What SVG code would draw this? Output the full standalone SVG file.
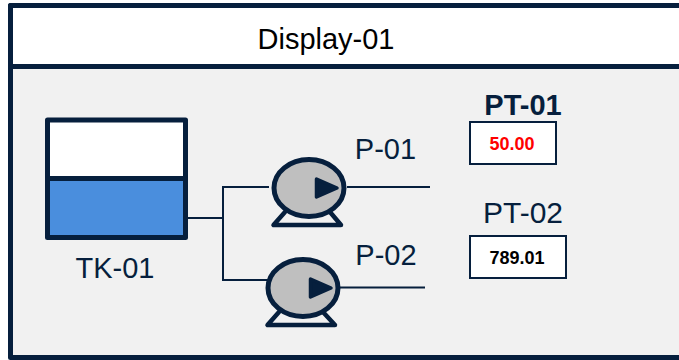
<svg xmlns="http://www.w3.org/2000/svg" width="679" height="360" viewBox="0 0 679 360">
<style>
text{font-family:"Liberation Sans",Arial,sans-serif;fill:#061f3d;text-anchor:middle}
.lbl{font-size:29px}
.val{font-size:18px;font-weight:bold}
.frame{stroke:#061f3d;stroke-width:5;stroke-linejoin:round}
.pipe{fill:none;stroke:#061f3d;stroke-width:2}
.box{fill:#fff;stroke:#061f3d;stroke-width:2}
.body{fill:#bfbfbf;stroke:#061f3d;stroke-width:5}
.tri{fill:#061f3d;stroke:#061f3d;stroke-width:3.500;stroke-linejoin:round}
.foot{fill:none;stroke:#061f3d;stroke-width:4.500;stroke-linejoin:round;stroke-linecap:round}
</style>
<rect width="679" height="360" fill="#fff"/>
<g id="display-frame">
<rect class="frame" x="10.500" y="5.500" width="680" height="352" fill="#f1f1f1"/>
<rect class="frame" x="10.500" y="5.500" width="680" height="61" fill="#fff"/>
<text x="326" y="49" style="font-size:29px;fill:#000">Display-01</text>
</g>
<g id="connectors">
<path class="pipe" d="M188 218H223M269 187H223V280H268"/>
<path class="pipe" d="M347 187H430"/>
<path class="pipe" d="M340 287.500H425"/>
</g>
<g id="TK-01">
<rect class="frame" x="47.500" y="120" width="138" height="58.500" fill="#fff"/>
<rect class="frame" x="47.500" y="178.500" width="138" height="59" fill="#4a8edd"/>
<text class="lbl" x="115" y="278">TK-01</text>
</g>
<g id="P-01">
<path class="foot" d="M285 212L273.500 225H341L330 212"/>
<ellipse class="body" cx="309" cy="188" rx="35" ry="28.500"/>
<path class="tri" d="M316.500 179L337 188L316.500 197Z"/>
<text class="lbl" x="385.500" y="159">P-01</text>
</g>
<g id="P-02">
<path class="foot" d="M279 312L267.500 325H335L323 312"/>
<ellipse class="body" cx="303" cy="288" rx="35" ry="28.500"/>
<path class="tri" d="M310.500 279L331 288L310.500 297Z"/>
<text class="lbl" x="386" y="265">P-02</text>
</g>
<g id="PT-01">
<text x="523" y="114.500" style="font-size:29px;font-weight:bold">PT-01</text>
<rect class="box" x="470" y="122" width="86" height="42"/>
<text class="val" x="512" y="149.500" style="fill:#ff0000">50.00</text>
</g>
<g id="PT-02">
<text x="523" y="223" style="font-size:30px">PT-02</text>
<rect class="box" x="470" y="236" width="96" height="42"/>
<text class="val" x="517" y="263.500" style="fill:#000">789.01</text>
</g>
</svg>
